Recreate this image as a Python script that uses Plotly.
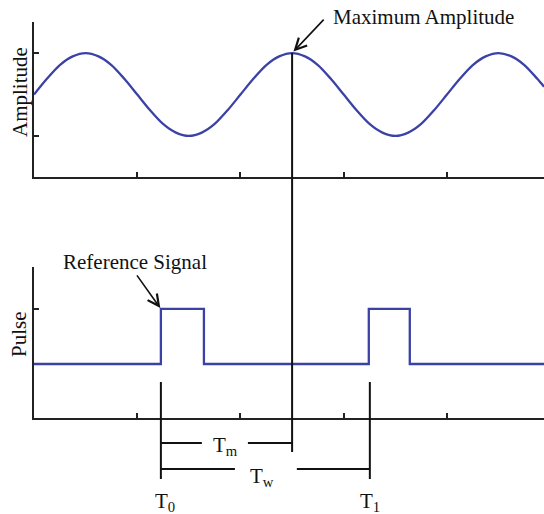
import plotly.graph_objects as go

# ---- data ----
sine_x = [0, 0.125, 0.25, 0.375, 0.5, 0.625, 0.75, 0.875, 1.0, 1.125, 1.25, 1.375, 1.5,
          1.625, 1.75, 1.875, 2.0, 2.125, 2.25, 2.375, 2.5, 2.625, 2.75, 2.875, 3.0,
          3.125, 3.25, 3.375, 3.5, 3.625, 3.75, 3.875, 4.0, 4.125, 4.25, 4.375, 4.5,
          4.625, 4.75, 4.875, 4.94]
sine_y = [0, 0.38, 0.71, 0.92, 1, 0.92, 0.71, 0.38, 0, -0.38, -0.71, -0.92, -1,
          -0.92, -0.71, -0.38, 0, 0.38, 0.71, 0.92, 1, 0.92, 0.71, 0.38, 0,
          -0.38, -0.71, -0.92, -1, -0.92, -0.71, -0.38, 0, 0.38, 0.71, 0.92, 1,
          0.92, 0.71, 0.38, 0.19]

pulse_x = [0, 1.229, 1.646, 3.243, 3.64, 4.94]
pulse_y = [0, 1, 0, 1, 0, 0]

t0 = 1.229
t1 = 3.253
tm = 2.5
tick_vals_x = [1, 2, 3, 4]
amp_ticks = [-1, 1]
pulse_ticks = [1]
labels = {"amp": "Amplitude", "pulse": "Pulse", "max": "Maximum Amplitude",
          "ref": "Reference Signal", "tm": "T<sub>m</sub>", "tw": "T<sub>w</sub>",
          "t0": "T<sub>0</sub>", "t1": "T<sub>1</sub>"}

W, H = 544, 514
def px(yp):
    return (H - yp) / H

blue = "#3a42a6"
font = dict(family="Liberation Serif, Times New Roman, serif", size=21, color="#111")

fig = go.Figure()
fig.add_trace(go.Scatter(x=sine_x, y=sine_y, mode="lines",
                         line=dict(color=blue, width=2.3, shape="spline", smoothing=0.8),
                         xaxis="x", yaxis="y", showlegend=False))
fig.add_trace(go.Scatter(x=pulse_x, y=pulse_y, mode="lines",
                         line=dict(color=blue, width=2.3, shape="hv"),
                         xaxis="x2", yaxis="y2", showlegend=False))

axis_common = dict(showline=True, linecolor="#222", linewidth=2, showgrid=False,
                   zeroline=False, ticks="inside", tickcolor="#222", tickwidth=2,
                   ticklen=5, showticklabels=False)

xr = [0, 4.94]
fig.update_layout(
    width=W, height=H, autosize=False,
    margin=dict(l=0, r=0, t=0, b=0),
    plot_bgcolor="white", paper_bgcolor="white",
    xaxis=dict(domain=[34 / W, 1], range=xr, tickvals=tick_vals_x, anchor="y", **axis_common),
    yaxis=dict(domain=[px(177), px(22)], range=[-1.99, 1.75], tickvals=amp_ticks,
               anchor="x", **axis_common),
    xaxis2=dict(domain=[34 / W, 1], range=xr, tickvals=tick_vals_x, anchor="y2", **axis_common),
    yaxis2=dict(domain=[px(418), px(267)], range=[-0.98, 1.76], tickvals=pulse_ticks,
                anchor="x2", **axis_common),
)

line_style = dict(color="#111", width=2)
shapes = [
    dict(type="line", xref="x", yref="paper", x0=tm, x1=tm, y0=px(53), y1=px(452), line=line_style),
    dict(type="line", xref="x", yref="paper", x0=t0, x1=t0, y0=px(382), y1=px(479), line=line_style),
    dict(type="line", xref="x", yref="paper", x0=t1, x1=t1, y0=px(382), y1=px(479), line=line_style),
    # Tm bracket
    dict(type="line", xref="x", yref="paper", x0=t0, x1=1.626, y0=px(443), y1=px(443), line=line_style),
    dict(type="line", xref="x", yref="paper", x0=2.072, x1=tm, y0=px(443), y1=px(443), line=line_style),
    # Tw bracket
    dict(type="line", xref="x", yref="paper", x0=t0, x1=1.946, y0=px(469), y1=px(469), line=line_style),
    dict(type="line", xref="x", yref="paper", x0=2.546, x1=t1, y0=px(469), y1=px(469), line=line_style),
]
fig.update_layout(shapes=shapes)

ann = []
ann.append(dict(text=labels["amp"], xref="paper", yref="paper", x=19.5 / W, y=px(92.5),
                textangle=-90, showarrow=False, font=font, xanchor="center", yanchor="middle"))
ann.append(dict(text=labels["pulse"], xref="paper", yref="paper", x=18.5 / W, y=px(334.5),
                textangle=-90, showarrow=False, font=font, xanchor="center", yanchor="middle"))
ann.append(dict(text=labels["max"], xref="paper", yref="paper", x=331 / W, y=px(17),
                showarrow=False, font=font, xanchor="left", yanchor="middle"))
ann.append(dict(text="", x=tm, y=1, xref="x", yref="y", showarrow=True, arrowhead=5,
                arrowsize=1.4, arrowwidth=1.6, arrowcolor="#111", ax=33, ay=-35, standoff=2))
ann.append(dict(text=labels["ref"], xref="paper", yref="paper", x=61 / W, y=px(262),
                showarrow=False, font=font, xanchor="left", yanchor="middle"))
ann.append(dict(text="", x=t0, y=1, xref="x2", yref="y2", showarrow=True, arrowhead=5,
                arrowsize=1.4, arrowwidth=1.6, arrowcolor="#111", ax=-25, ay=-35, standoff=1))
ann.append(dict(text=labels["tm"], xref="x", yref="paper", x=1.859, y=px(446),
                showarrow=False, font=font, xanchor="center", yanchor="middle"))
ann.append(dict(text=labels["tw"], xref="x", yref="paper", x=2.207, y=px(477),
                showarrow=False, font=font, xanchor="center", yanchor="middle"))
ann.append(dict(text=labels["t0"], xref="x", yref="paper", x=1.268, y=px(502),
                showarrow=False, font=font, xanchor="center", yanchor="middle"))
ann.append(dict(text=labels["t1"], xref="x", yref="paper", x=t1, y=px(502),
                showarrow=False, font=font, xanchor="center", yanchor="middle"))
fig.update_layout(annotations=ann)

fig.write_html("out.html", config={"displayModeBar": False},
               post_script="document.body.style.margin='0';document.body.style.overflow='hidden';")
